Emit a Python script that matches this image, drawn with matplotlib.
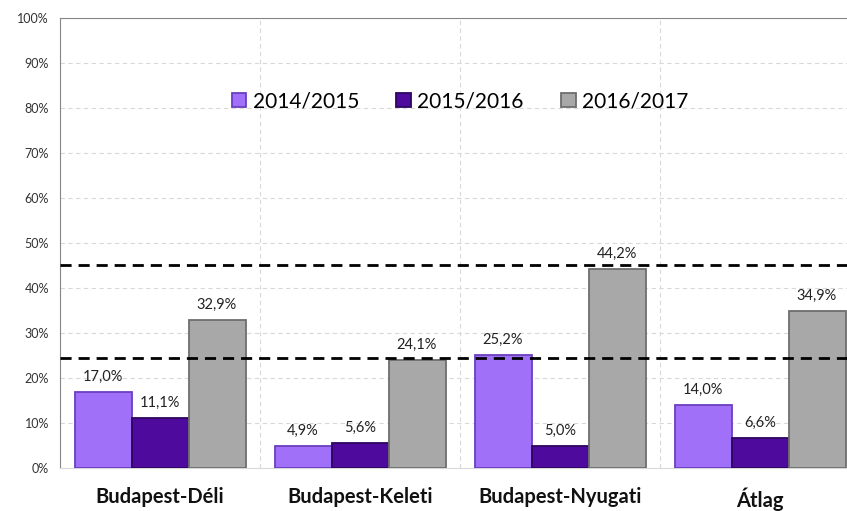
import numpy as np
import matplotlib.pyplot as plt
from matplotlib.ticker import FuncFormatter

plt.rcParams['font.family'] = ['Lato', 'DejaVu Sans']

categories = ["Budapest-Déli", "Budapest-Keleti", "Budapest-Nyugati", "Átlag"]
seasons = ["2014/2015", "2015/2016", "2016/2017"]
v_1415 = [17.0, 4.9, 25.2, 14.0]
v_1516 = [11.1, 5.6, 5.0, 6.6]
v_1617 = [32.9, 24.1, 44.2, 34.9]
ref_lines = [24.4, 45.1]

colors = ["#A070F8", "#4E0A9C", "#A8A8A8"]
edges = ["#6B3FC0", "#2E0560", "#6E6E6E"]

fig = plt.figure(figsize=(8.47, 5.11), dpi=100)
ax = fig.add_axes([60 / 847, 43 / 511, 800 / 847, 450 / 511])

x = np.arange(len(categories))
w = 0.285
for i, (vals, lab) in enumerate(zip([v_1415, v_1516, v_1617], seasons)):
    pos = x + (i - 1) * w
    ax.bar(pos, vals, width=w, color=colors[i], edgecolor=edges[i],
           linewidth=1.3, label=lab, zorder=3)
    for xp, v in zip(pos, vals):
        ax.text(xp, v + 1.8, f"{v:.1f}%".replace(".", ","), ha="center",
                va="bottom", fontsize=10.5, color="#222222", zorder=5)

for r in ref_lines:
    ax.axhline(r, color="black", linestyle=(0, (4, 2.5)), linewidth=2, zorder=6)

ax.set_xlim(-0.5, 3.5)
ax.set_ylim(0, 100)
ax.set_yticks(np.arange(0, 101, 10))
ax.yaxis.set_major_formatter(FuncFormatter(lambda v, p: f"{v:.0f}%"))
ax.set_xticks(x)
ax.set_xticklabels(categories, fontsize=14.5, fontweight="bold", color="#111111")
ax.set_xticks([0.5, 1.5, 2.5], minor=True)
ax.tick_params(axis="x", which="both", length=0, pad=14)
ax.tick_params(axis="y", length=0, labelsize=9, labelcolor="#333333", pad=8)
ax.grid(axis="y", which="major", color="#D9D9D9", linestyle=(0, (4, 3)), linewidth=0.8, zorder=0)
ax.grid(axis="x", which="minor", color="#D9D9D9", linestyle=(0, (4, 3)), linewidth=0.8, zorder=0)

for s in ["left", "top"]:
    ax.spines[s].set_color("#868686")
ax.spines["bottom"].set_color("#D9D9D9")
ax.spines["right"].set_visible(False)

ax.legend(loc="center", bbox_to_anchor=(400 / 800, 0.815), ncol=3, frameon=False,
          fontsize=15, handlelength=0.7, handleheight=0.7, handletextpad=0.3,
          columnspacing=1.8)

fig.savefig("out.png", dpi=100)
